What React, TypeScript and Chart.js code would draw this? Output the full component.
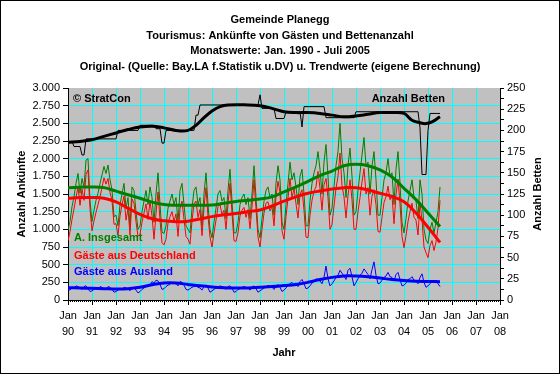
import React, { useEffect, useRef } from "react";
import { Chart, registerables } from "chart.js";

Chart.register(...registerables);

const FONT = "'Liberation Sans', Arial, Helvetica, sans-serif";

const titleLines = [
  "Gemeinde Planegg",
  "Tourismus: Ankünfte von Gästen und Bettenanzahl",
  "Monatswerte: Jan. 1990 - Juli 2005",
  "Original- (Quelle: Bay.LA f.Statistik u.DV) u. Trendwerte (eigene Berechnung)",
];

const yearLabels = ["90", "91", "92", "93", "94", "95", "96", "97", "98", "99", "00", "01", "02", "03", "04", "05", "06", "07", "08"];

// monthly values Jan 1990 .. Jul 2005 (index = month number since Jan 1990)
const gesamt = [
  990, 1110, 1320, 1460, 1650, 1790, 1510, 1720, 1600, 1980, 2000, 1410,
  1110, 1270, 1410, 1510, 1650, 1770, 1890, 1790, 1910, 1700, 1560, 1180,
  1200, 1050, 1350, 1500, 1650, 1300, 1450, 1050, 1600, 1550, 1250, 1000,
  1050, 1250, 1400, 1550, 1350, 1600, 1450, 1100, 1500, 1800, 1350, 960,
  940, 1050, 1300, 1400, 1500, 1350, 1450, 1100, 1550, 1650, 1350, 1050,
  1000, 950, 1300, 1550, 1600, 1350, 1450, 1050, 1500, 1800, 1350, 1000,
  880, 1100, 1300, 1500, 1550, 1400, 1450, 1150, 1550, 1850, 1400, 950,
  950, 1100, 1350, 1450, 1500, 1350, 1450, 1150, 1500, 1900, 1450, 1000,
  880, 1150, 1400, 1550, 1600, 1450, 1500, 1200, 1650, 1900, 1700, 1100,
  1000, 1350, 1650, 1950, 1700, 1800, 1600, 1350, 1750, 1850, 1500, 1050,
  1050, 1400, 1650, 1800, 1900, 2100, 1850, 1500, 1950, 2200, 1750, 1200,
  1300, 1600, 1900, 2100, 2500, 2000, 1800, 1450, 1900, 2150, 1750, 1200,
  1250, 1550, 1800, 2050, 2300, 1900, 1950, 1500, 1900, 2100, 1700, 1200,
  1200, 1450, 1700, 1800, 2000, 1750, 1800, 1350, 1850, 2100, 1650, 1100,
  950, 1150, 1400, 1550, 1700, 1450, 1400, 1150, 1700, 1500, 1000, 850,
  800, 1000, 1100, 950, 1100, 1250, 1600,
];

const deutschland = [
  840, 970, 1140, 1290, 1450, 1600, 1340, 1570, 1410, 1780, 1840, 1290,
  980, 1120, 1240, 1350, 1460, 1590, 1730, 1640, 1720, 1520, 1410, 1070,
  1080, 910, 1190, 1350, 1470, 1130, 1290, 920, 1430, 1370, 1110, 900,
  930, 1100, 1230, 1360, 1140, 1400, 1190, 860, 1220, 1530, 1130, 810,
  780, 860, 1090, 1180, 1250, 1110, 1220, 900, 1290, 1400, 1140, 900,
  860, 790, 1120, 1360, 1400, 1170, 1280, 910, 1310, 1590, 1180, 890,
  750, 950, 1130, 1320, 1350, 1210, 1270, 1000, 1360, 1650, 1230, 840,
  830, 950, 1190, 1270, 1310, 1170, 1280, 1010, 1320, 1700, 1290, 890,
  750, 1000, 1230, 1370, 1390, 1260, 1320, 1050, 1460, 1680, 1520, 980,
  860, 1180, 1440, 1720, 1450, 1580, 1360, 1160, 1490, 1560, 1270, 890,
  880, 1200, 1410, 1540, 1600, 1820, 1580, 1270, 1630, 1720, 1450, 1000,
  1070, 1330, 1580, 1750, 2080, 1620, 1460, 1160, 1480, 1700, 1420, 1000,
  1000, 1250, 1450, 1670, 1860, 1500, 1590, 1200, 1470, 1560, 1350, 970,
  960, 1170, 1380, 1460, 1610, 1420, 1480, 1080, 1490, 1710, 1360, 900,
  740, 910, 1110, 1250, 1370, 1170, 1130, 920, 1380, 1130, 750, 670,
  600, 770, 840, 700, 820, 1020, 1410,
];

const ausland = [
  150, 140, 180, 170, 200, 190, 170, 150, 190, 200, 160, 120,
  130, 150, 170, 160, 190, 180, 160, 150, 190, 180, 150, 110,
  120, 140, 160, 150, 180, 170, 160, 130, 170, 180, 140, 100,
  120, 150, 170, 190, 210, 200, 260, 240, 280, 270, 220, 150,
  160, 190, 210, 220, 250, 240, 230, 200, 260, 250, 210, 150,
  140, 160, 180, 190, 200, 180, 170, 140, 190, 210, 170, 110,
  130, 150, 170, 180, 200, 190, 180, 150, 190, 200, 170, 110,
  120, 150, 160, 180, 190, 180, 170, 140, 180, 200, 160, 110,
  130, 150, 170, 180, 210, 190, 180, 150, 190, 220, 180, 120,
  140, 170, 210, 230, 250, 220, 240, 190, 260, 290, 230, 160,
  170, 200, 240, 260, 300, 280, 270, 230, 320, 480, 300, 200,
  230, 270, 320, 350, 420, 380, 340, 290, 420, 450, 330, 200,
  250, 300, 350, 380, 440, 400, 360, 300, 430, 540, 350, 230,
  240, 280, 320, 340, 390, 330, 320, 270, 360, 390, 290, 200,
  210, 240, 290, 300, 330, 280, 270, 230, 320, 370, 250, 180,
  200, 230, 260, 250, 280, 230, 190,
];

const betten = [
  187, 187, 187, 181, 181, 181, 181, 171, 171, 190, 190, 190,
  190, 190, 190, 190, 190, 190, 190, 190, 190, 190, 190, 190,
  190, 200, 200, 200, 200, 200, 200, 200, 200, 200, 200, 200,
  206, 206, 206, 206, 206, 206, 206, 206, 202, 202, 202, 185,
  185, 200, 200, 200, 200, 200, 200, 200, 200, 200, 200, 200,
  200, 200, 200, 200, 218, 218, 230, 230, 230, 230, 230, 230,
  230, 230, 230, 230, 230, 230, 230, 230, 230, 230, 230, 230,
  230, 230, 230, 230, 230, 230, 230, 230, 230, 230, 230, 230,
  242, 226, 226, 226, 226, 226, 226, 226, 214, 214, 214, 214,
  214, 222, 222, 222, 222, 222, 222, 222, 222, 204, 228, 228,
  228, 228, 228, 228, 228, 228, 228, 228, 228, 215, 215, 215,
  215, 215, 215, 215, 215, 215, 215, 215, 215, 215, 215, 215,
  222, 222, 222, 222, 222, 222, 222, 222, 222, 222, 222, 222,
  222, 222, 222, 222, 222, 222, 222, 222, 222, 222, 222, 222,
  222, 222, 222, 222, 222, 222, 222, 222, 203, 148, 148, 148,
  200, 220, 220, 220, 220, 220, 220,
];

// trend values (own calculation) at selected months
const trendMonths = [0, 6, 12, 18, 24, 30, 36, 42, 48, 54, 60, 66, 72, 78, 84, 90, 96, 102, 108, 114, 120, 126, 132, 138, 144, 150, 156, 162, 168, 174, 180, 186];
const trendGesamt = [1590, 1595, 1600, 1590, 1540, 1490, 1440, 1385, 1350, 1340, 1340, 1340, 1345, 1370, 1395, 1410, 1430, 1460, 1530, 1600, 1680, 1760, 1825, 1900, 1920, 1900, 1840, 1740, 1580, 1420, 1230, 1040];
const trendDeutschland = [1440, 1450, 1450, 1440, 1390, 1300, 1210, 1150, 1120, 1108, 1115, 1146, 1180, 1205, 1225, 1250, 1274, 1330, 1400, 1460, 1510, 1542, 1570, 1589, 1590, 1556, 1510, 1465, 1390, 1230, 1030, 815];
const trendAusland = [175, 170, 165, 160, 155, 160, 180, 215, 240, 240, 220, 200, 185, 175, 170, 170, 180, 190, 205, 220, 250, 290, 320, 340, 340, 330, 310, 290, 275, 265, 262, 258];

const bettenTrendMonths = [0, 6, 12, 18, 24, 30, 36, 42, 48, 54, 60, 64, 68, 72, 76, 80, 90, 96, 102, 108, 114, 120, 126, 132, 138, 144, 150, 156, 162, 168, 172, 176, 179, 182, 186];
const bettenTrend = [186, 187, 189, 193, 197, 201, 204, 205, 203, 200, 200, 206, 215, 223, 228, 230, 230, 229, 226, 222, 221, 221, 220, 218, 216, 217, 219, 221, 221, 220, 212, 209, 208, 210, 216];

const seriesLabels = ["A. Insgesamt", "Gäste aus Deutschland", "Gäste aus Ausland"];

const monthly = (arr: number[]) => arr.map((v, i) => ({ x: i, y: v }));
const atMonths = (months: number[], arr: number[]) => arr.map((v, i) => ({ x: months[i], y: v }));

const fmtDe = (v: number) => {
  const n = Math.round(v);
  if (n >= 1000) return Math.floor(n / 1000) + "." + String(n % 1000).padStart(3, "0");
  return String(n);
};

const decorPlugin = {
  id: "decor",
  beforeDraw(chart: any) {
    const { ctx, chartArea: a, width, height } = chart;
    ctx.save();
    ctx.fillStyle = "#FFFFFF";
    ctx.fillRect(0, 0, width, height);
    ctx.fillStyle = "#C0C0C0";
    ctx.fillRect(a.left, a.top, a.right - a.left, a.bottom - a.top);
    ctx.restore();
  },
  beforeDatasetsDraw(chart: any) {
    const { ctx, chartArea: a } = chart;
    ctx.save();
    ctx.font = `bold 11px ${FONT}`;
    ctx.textBaseline = "middle";
    ctx.textAlign = "left";
    ctx.fillStyle = "#000000";
    ctx.fillText("© StratCon", a.left + 5, a.top + 11);
    ctx.textAlign = "right";
    ctx.fillText("Anzahl Betten", 445, a.top + 11);
    ctx.textAlign = "left";
    ctx.fillStyle = "#008000";
    ctx.fillText(seriesLabels[0], a.left + 6, 238);
    ctx.fillStyle = "#FF0000";
    ctx.fillText(seriesLabels[1], a.left + 6, 255.5);
    ctx.fillStyle = "#0000FF";
    ctx.fillText(seriesLabels[2], a.left + 6, 272);
    ctx.restore();
  },
  afterDraw(chart: any) {
    const { ctx, chartArea: a, width, height } = chart;
    const xs = chart.scales.x;
    ctx.save();
    ctx.strokeStyle = "#000000";
    ctx.lineWidth = 1;
    ctx.beginPath();
    for (let m = 0; m <= 216; m++) {
      const px = Math.round(xs.getPixelForValue(m)) + 0.5;
      ctx.moveTo(px, a.bottom);
      ctx.lineTo(px, a.bottom + 2);
    }
    ctx.stroke();
    ctx.strokeRect(0.5, 0.5, width - 1, height - 1);
    ctx.font = `bold 11px ${FONT}`;
    ctx.fillStyle = "#000000";
    ctx.textAlign = "center";
    ctx.textBaseline = "middle";
    ctx.translate(538, (a.top + a.bottom) / 2);
    ctx.rotate(-Math.PI / 2);
    ctx.fillText("Anzahl Betten", 0, 0);
    ctx.restore();
  },
};

export default function App() {
  const ref = useRef<HTMLCanvasElement>(null);

  useEffect(() => {
    const canvas = ref.current;
    if (!canvas) return;
    Chart.defaults.font.family = FONT;
    const thin = { pointRadius: 0, borderWidth: 1, tension: 0, fill: false };
    const thick = { pointRadius: 0, borderWidth: 3, tension: 0.4, fill: false };
    const chart = new Chart(canvas, {
      type: "line",
      data: {
        datasets: [
          { ...thick, label: "Betten Trend", data: atMonths(bettenTrendMonths, bettenTrend), borderColor: "#000000", yAxisID: "y1" },
          { ...thick, label: "Insgesamt Trend", data: atMonths(trendMonths, trendGesamt), borderColor: "#008000", yAxisID: "y" },
          { ...thick, label: "Deutschland Trend", data: atMonths(trendMonths, trendDeutschland), borderColor: "#FF0000", yAxisID: "y" },
          { ...thick, label: "Ausland Trend", data: atMonths(trendMonths, trendAusland), borderColor: "#0000FF", yAxisID: "y" },
          { ...thin, label: "Betten", data: monthly(betten), borderColor: "#000000", yAxisID: "y1" },
          { ...thin, label: seriesLabels[2], data: monthly(ausland), borderColor: "#0000FF", yAxisID: "y" },
          { ...thin, label: seriesLabels[1], data: monthly(deutschland), borderColor: "#FF0000", yAxisID: "y" },
          { ...thin, label: seriesLabels[0], data: monthly(gesamt), borderColor: "#008000", yAxisID: "y" },
        ],
      },
      options: {
        responsive: false,
        animation: false,
        devicePixelRatio: 1,
        layout: { padding: { top: 0, left: 0, right: 0, bottom: 0 } },
        plugins: {
          legend: { display: false },
          tooltip: { enabled: false },
          title: {
            display: true,
            text: titleLines,
            color: "#000000",
            font: { size: 11, weight: "bold", family: FONT, lineHeight: 15.7 / 11 },
            padding: { top: 12, bottom: 13.2 },
          },
        },
        scales: {
          x: {
            type: "linear",
            position: "bottom",
            min: 0,
            max: 216,
            ticks: {
              stepSize: 12,
              autoSkip: false,
              maxRotation: 0,
              minRotation: 0,
              color: "#000000",
              padding: 3,
              font: { size: 11, family: FONT, lineHeight: 16 / 11 },
              callback: (v: any) => {
                const n = Number(v);
                return n % 12 === 0 ? ["Jan", yearLabels[n / 12]] : "";
              },
            },
            grid: {
              color: (c: any) => {
                const v = c.tick ? c.tick.value : -1;
                return v === 0 || v === 216 ? "rgba(0,0,0,0)" : "#00FFFF";
              },
              lineWidth: 1,
              tickLength: 5,
              tickColor: "#000000",
            },
            border: { display: true, color: "#000000", width: 1 },
            title: {
              display: true,
              text: "Jahr",
              color: "#000000",
              font: { size: 11, weight: "bold", family: FONT },
              padding: { top: 0, bottom: 14 },
            },
            afterFit: (s: any) => {
              s.height = 74;
            },
          },
          y: {
            type: "linear",
            position: "left",
            min: 0,
            max: 3000,
            ticks: {
              stepSize: 250,
              color: "#000000",
              padding: 3,
              font: { size: 11, family: FONT },
              callback: (v: any) => fmtDe(Number(v)),
            },
            grid: {
              color: (c: any) => {
                const v = c.tick ? c.tick.value : -1;
                return v === 0 || v === 3000 ? "rgba(0,0,0,0)" : "#00FFFF";
              },
              lineWidth: 1,
              tickLength: 5,
              tickColor: "#000000",
            },
            border: { display: true, color: "#000000", width: 1 },
            title: {
              display: true,
              text: "Anzahl Ankünfte",
              color: "#000000",
              font: { size: 11, weight: "bold", family: FONT },
              padding: { top: 15, bottom: 0 },
            },
            afterFit: (s: any) => {
              s.width = 68;
            },
          },
          y1: {
            type: "linear",
            position: "right",
            min: 0,
            max: 250,
            ticks: {
              stepSize: 12.5,
              autoSkip: false,
              color: "#000000",
              padding: 3,
              font: { size: 11, family: FONT },
              callback: (v: any) => (Number(v) % 25 === 0 ? String(v) : ""),
            },
            grid: { drawOnChartArea: false, tickLength: 4, tickColor: "#000000" },
            border: { display: true, color: "#000000", width: 1 },
            afterFit: (s: any) => {
              s.width = 60;
            },
          },
        },
      } as any,
      plugins: [decorPlugin],
    });
    return () => chart.destroy();
  }, []);

  return (
    <div style={{ position: "fixed", left: 0, top: 0, width: 560, height: 374, background: "#FFFFFF" }}>
      <canvas ref={ref} width={560} height={374} style={{ display: "block", width: 560, height: 374 }} />
    </div>
  );
}
